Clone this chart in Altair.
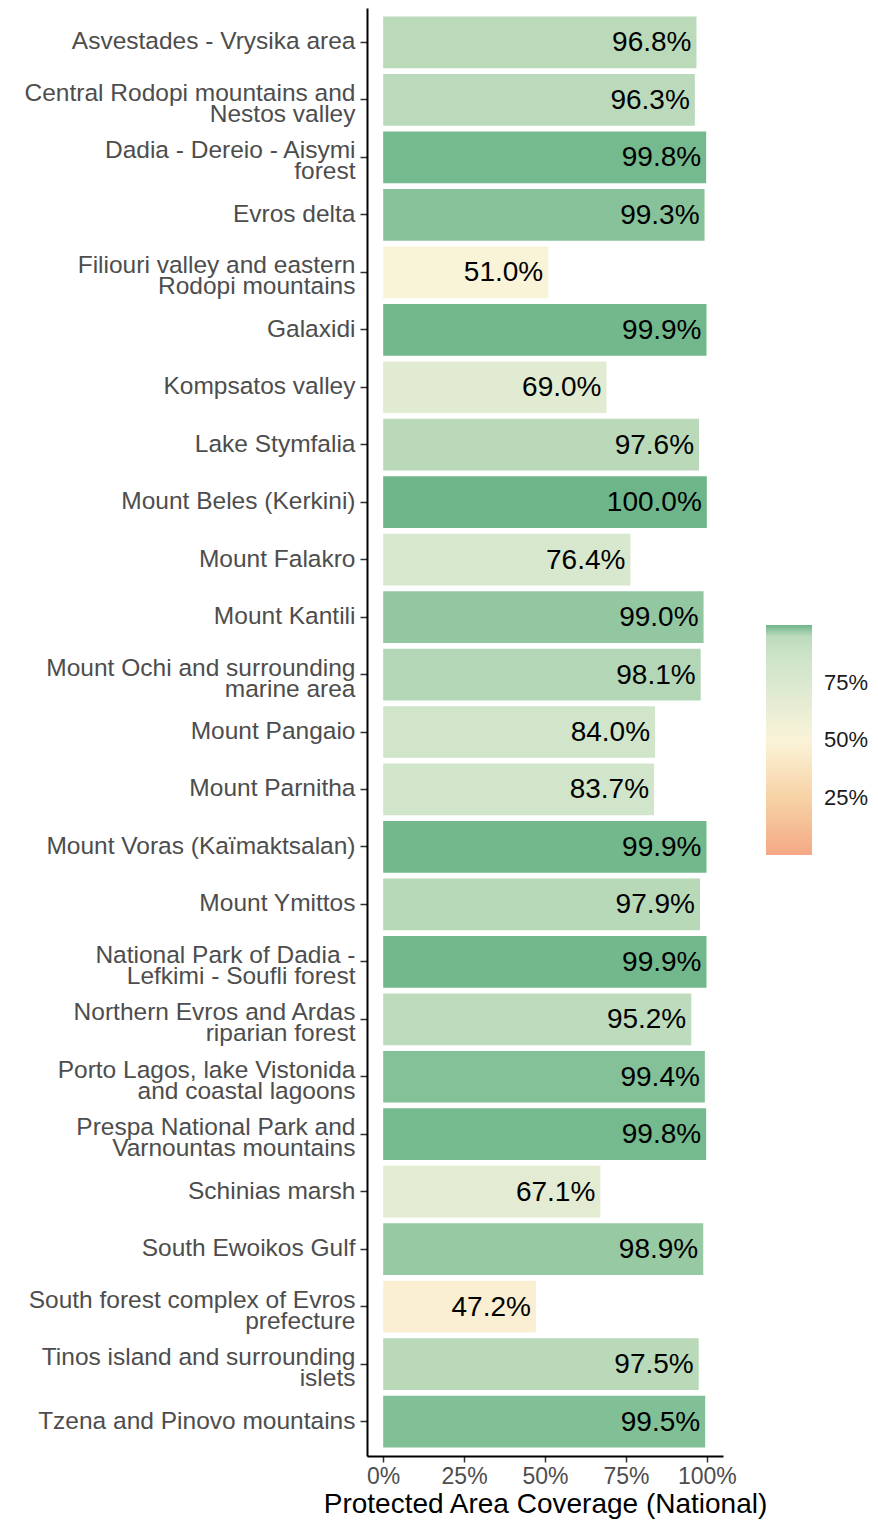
import altair as alt
import pandas as pd

sites = [
    "Asvestades - Vrysika area",
    "Central Rodopi mountains and\nNestos valley",
    "Dadia - Dereio - Aisymi\nforest",
    "Evros delta",
    "Filiouri valley and eastern\nRodopi mountains",
    "Galaxidi",
    "Kompsatos valley",
    "Lake Stymfalia",
    "Mount Beles (Kerkini)",
    "Mount Falakro",
    "Mount Kantili",
    "Mount Ochi and surrounding\nmarine area",
    "Mount Pangaio",
    "Mount Parnitha",
    "Mount Voras (Kaïmaktsalan)",
    "Mount Ymittos",
    "National Park of Dadia -\nLefkimi - Soufli forest",
    "Northern Evros and Ardas\nriparian forest",
    "Porto Lagos, lake Vistonida\nand coastal lagoons",
    "Prespa National Park and\nVarnountas mountains",
    "Schinias marsh",
    "South Ewoikos Gulf",
    "South forest complex of Evros\nprefecture",
    "Tinos island and surrounding\nislets",
    "Tzena and Pinovo mountains",
]
coverage = [96.8, 96.3, 99.8, 99.3, 51.0, 99.9, 69.0, 97.6, 100.0, 76.4,
            99.0, 98.1, 84.0, 83.7, 99.9, 97.9, 99.9, 95.2, 99.4, 99.8,
            67.1, 98.9, 47.2, 97.5, 99.5]

x_ticks = [0, 25, 50, 75, 100]
legend_ticks = [25, 50, 75]
color_stops = [0, 25, 50, 75, 84, 95.2, 97.9, 98.1, 99, 100]
color_range = ["#f4a885", "#f7d3a6", "#faf3d8", "#d9e8cf", "#d1e5cb",
               "#bddbbd", "#b8d9b8", "#b3d7b6", "#93c7a1", "#6eb68a"]

df = pd.DataFrame({"site": sites, "cov": coverage})

FONT = "Liberation Sans"

y_enc = alt.Y(
    "site:N", sort=sites, title=None,
    scale=alt.Scale(paddingInner=0.1, paddingOuter=0.15),
    axis=alt.Axis(
        labelExpr="split(datum.label, '\\n')",
        labelOffset={"condition": {"test": "indexof(datum.value, '\\n') >= 0",
                                   "value": -6}, "value": 0},
        labelFont=FONT, labelFontSize=24.5, labelColor="#4d4d4d",
        labelLineHeight=21, labelPadding=5, labelLimit=400,
        tickSize=7, tickColor="#333333", tickWidth=1.5,
        domainColor="#000000", domainWidth=2, grid=False,
    ),
)

x_scale = alt.Scale(domain=[-5, 105], nice=False, zero=False)

bars = alt.Chart(df).mark_bar().encode(
    y=y_enc,
    x=alt.X(
        "cov:Q", scale=x_scale,
        title="Protected Area Coverage (National)",
        axis=alt.Axis(
            values=x_ticks, labelExpr="datum.value + '%'",
            labelFont=FONT, labelFontSize=23, labelColor="#4d4d4d",
            labelPadding=3, tickSize=6, tickColor="#333333", tickWidth=1.5,
            domainColor="#000000", domainWidth=2, grid=False,
            titleFont=FONT, titleFontSize=28, titleFontWeight="normal",
            titleColor="#000000", titlePadding=2,
        ),
    ),
    x2=alt.datum(0),
    color=alt.Color(
        "cov:Q",
        scale=alt.Scale(domain=color_stops, range=color_range, interpolate="rgb"),
        legend=alt.Legend(
            title=None, values=legend_ticks, labelExpr="datum.value + '%'",
            orient="none", legendX=399, legendY=617,
            gradientLength=230, gradientThickness=46,
            labelFont=FONT, labelFontSize=22, labelColor="#1a1a1a",
            labelOffset=12, gradientStrokeWidth=0, direction="vertical",
        ),
    ),
)

labels = alt.Chart(df).transform_calculate(
    lab="format(datum.cov, '.1f') + '%'"
).mark_text(
    align="right", baseline="middle", dx=-5, dy=1,
    font=FONT, fontSize=28, color="#000000",
).encode(
    y=alt.Y("site:N", sort=sites),
    x=alt.X("cov:Q", scale=x_scale),
    text="lab:N",
)

chart = alt.layer(bars, labels).properties(
    width=356, height=1448,
    autosize=alt.AutoSizeParams(type="none"),
    padding={"left": 359, "top": 0, "right": 146, "bottom": 67},
).configure_view(stroke=None)

chart.save("out.html", embed_options={"renderer": "svg", "actions": False})
